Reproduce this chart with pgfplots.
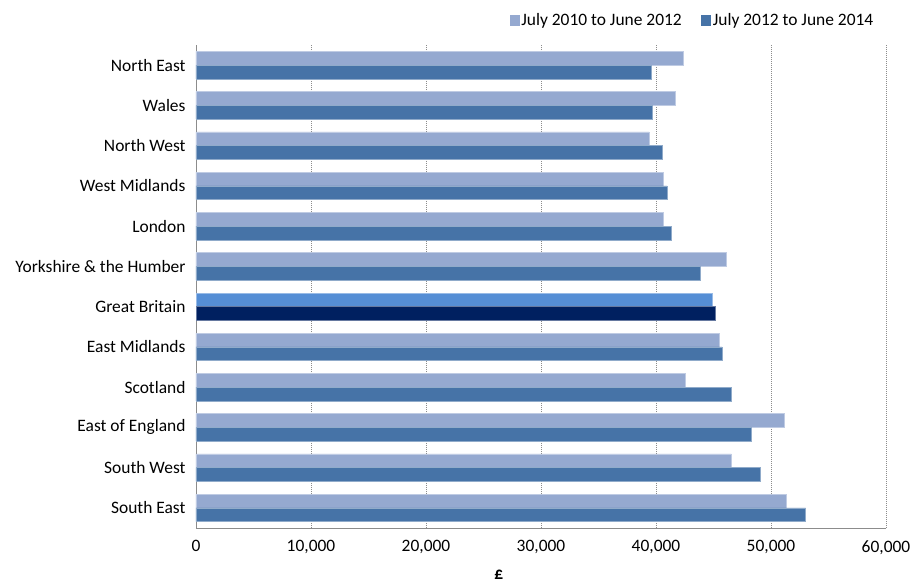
\documentclass[border=0pt]{standalone}
\usepackage{fontspec}
\setmainfont{Carlito}
\usepackage{pgfplots}
\pgfplotsset{compat=1.18}

\definecolor{lightbar}{RGB}{149,169,208}
\definecolor{darkbar}{RGB}{70,115,167}
\definecolor{gblight}{RGB}{85,142,213}
\definecolor{gbdark}{RGB}{0,32,96}

\begin{document}
\begin{tikzpicture}[font=\fontsize{17.5}{21}\selectfont]
\useasboundingbox (-196bp,-57bp) rectangle (719bp,528bp);
\begin{axis}[
  scale only axis, width=690bp, height=483bp,
  xmin=0, xmax=60000, ymin=-0.5, ymax=11.5,
  axis x line*=bottom, axis y line*=left,
  axis line style={black!45, line width=0.9bp},
  xtick={0,10000,...,60000}, ytick={0,...,11},
  yticklabels={South East,South West,East of England,Scotland,East Midlands,Great Britain,Yorkshire \& the Humber,London,West Midlands,North West,Wales,North East},
  major tick length=0pt,
  xmajorgrids,
  grid style={black!45, line width=0.9bp, dash pattern=on 1bp off 1bp},
  scaled x ticks=false,
  /pgf/number format/1000 sep={,},
  /pgf/number format/assume math mode=true,
  yticklabel style={xshift=-7bp},
  xticklabel style={yshift=-9bp},
  xlabel={\textbf{£}},
  xlabel style={at={(axis description cs:0.439,0)}, anchor=center, yshift=-47bp},
  legend columns=2,
  legend style={draw=none, fill=none, at={(1,1)}, anchor=south east,
    xshift=-8bp, yshift=14bp, nodes={inner sep=1.5bp},
    /tikz/every even column/.append style={column sep=18bp}},
  legend image code/.code={\fill[#1,draw=none] (0bp,-5.5bp) rectangle (10bp,5.5bp);},
]
% July 2010 to June 2012 (regions)
\addplot[xbar, bar width=13.8bp, bar shift=6.9bp, fill=lightbar, draw=lightbar!60!white, line width=0.5bp]
  coordinates {(42360,11) (41660,10) (39410,9) (40650,8) (40650,7) (46080,6)
               (45480,4) (42520,3) (51180,2) (46560,1) (51300,0)};
\addlegendentry{July 2010 to June 2012}
% July 2012 to June 2014 (regions)
\addplot[xbar, bar width=13.8bp, bar shift=-6.9bp, fill=darkbar, draw=darkbar!60!white, line width=0.5bp]
  coordinates {(39570,11) (39680,10) (40535,9) (40960,8) (41350,7) (43870,6)
               (45750,4) (46560,3) (48270,2) (49090,1) (53010,0)};
\addlegendentry{July 2012 to June 2014}
% Great Britain highlighted
\addplot[xbar, forget plot, bar width=13.8bp, bar shift=6.9bp, fill=gblight, draw=gblight!60!white, line width=0.5bp]
  coordinates {(44930,5)};
\addplot[xbar, forget plot, bar width=13.8bp, bar shift=-6.9bp, fill=gbdark, draw=gbdark!60!white, line width=0.5bp]
  coordinates {(45170,5)};
\end{axis}
\end{tikzpicture}
\end{document}
